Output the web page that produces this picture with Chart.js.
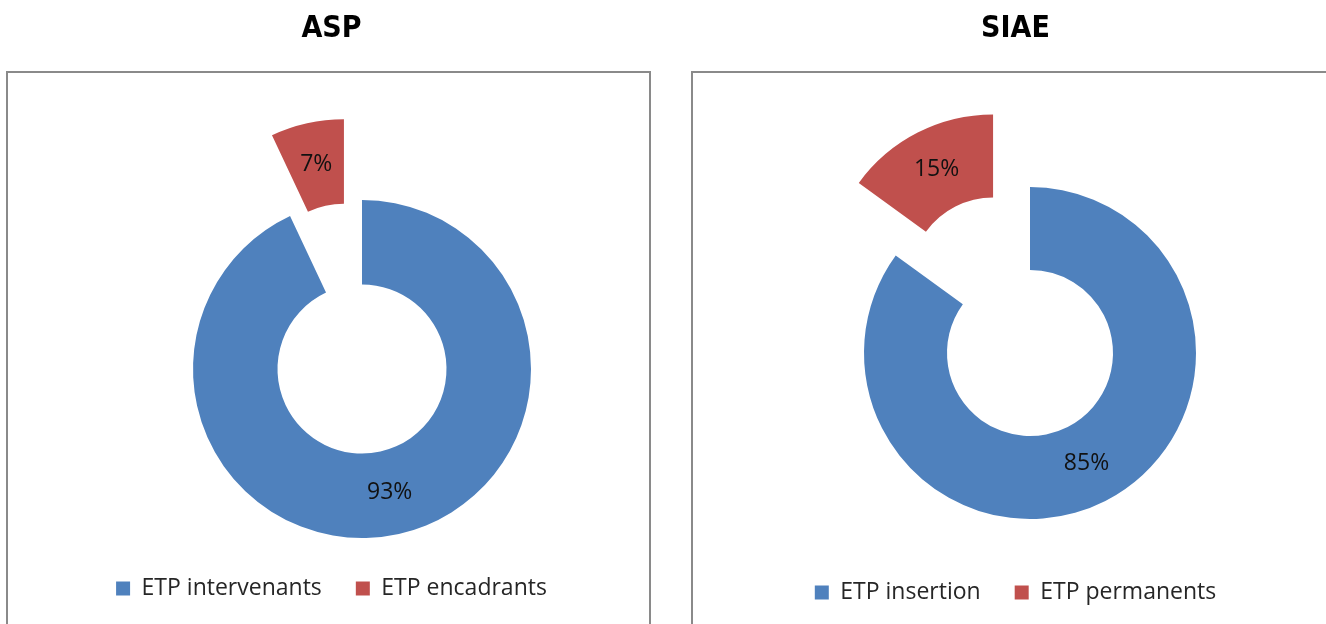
<!DOCTYPE html>
<html><head><meta charset="utf-8">
<script src="https://cdn.jsdelivr.net/npm/chart.js@4/dist/chart.umd.min.js"></script>
<style>
html,body{margin:0;padding:0;background:#fff;overflow:hidden;width:1326px;height:624px;position:relative;}
.frame{position:absolute;border:2px solid #8a8a8a;box-sizing:border-box;}
canvas{position:absolute;top:0;}
</style></head><body>
<div class="frame" style="left:6px;top:71px;width:645px;height:620px"></div>
<div class="frame" style="left:691px;top:71px;width:700px;height:620px"></div>
<canvas id="asp" width="663" height="610" style="left:0px"></canvas>
<canvas id="siae" width="663" height="614" style="left:684px"></canvas>
<script>
// ---- data ----
const aspTitle = 'ASP';
const aspCategories = ['ETP intervenants', 'ETP encadrants'];
const aspValues = [93, 7];

const siaeTitle = 'SIAE';
const siaeCategories = ['ETP insertion', 'ETP permanents'];
const siaeValues = [85, 15];

const sliceColors = ['#4F81BD', '#C0504D'];

// ---- plugin: place centre, explode slices, draw percentage labels ----
const piePlugin = {
  id: 'piePlugin',
  afterLayout(chart, args, opts) {
    const a = chart.chartArea;
    const w = a.right - a.left, h = a.bottom - a.top;
    a.left = opts.cx - w / 2; a.right = opts.cx + w / 2;
    a.top = opts.cy - h / 2; a.bottom = opts.cy + h / 2;
  },
  afterDatasetsUpdate(chart, args, opts) {
    const meta = chart.getDatasetMeta(0);
    meta.data.forEach((arc, i) => {
      const e = (opts.explode[i] || 0) * arc.outerRadius;
      const mid = (arc.startAngle + arc.endAngle) / 2;
      arc.x += Math.cos(mid) * e;
      arc.y += Math.sin(mid) * e;
    });
  },
  afterDatasetsDraw(chart, args, opts) {
    const ctx = chart.ctx;
    const meta = chart.getDatasetMeta(0);
    const data = chart.data.datasets[0].data;
    const total = data.reduce((s, v) => s + v, 0);
    ctx.save();
    ctx.font = '23px "Open Sans"';
    ctx.fillStyle = '#111';
    ctx.textAlign = 'center';
    ctx.textBaseline = 'middle';
    meta.data.forEach((arc, i) => {
      const mid = (arc.startAngle + arc.endAngle) / 2;
      const r = (arc.innerRadius + arc.outerRadius) / 2;
      ctx.fillText(Math.round(data[i] / total * 100) + '%',
        arc.x + Math.cos(mid) * r, arc.y + Math.sin(mid) * r);
    });
    ctx.restore();
  }
};

function makeChart(id, title, categories, values, cx, cy, radius) {
  return new Chart(document.getElementById(id), {
    type: 'doughnut',
    data: {
      labels: categories,
      datasets: [{ data: values, backgroundColor: sliceColors, borderWidth: 0 }]
    },
    options: {
      responsive: false,
      animation: false,
      devicePixelRatio: 1,
      events: [],
      cutout: '50%',
      radius: radius,
      layout: { padding: 0 },
      plugins: {
        title: {
          display: true, text: title, color: '#000',
          font: { family: '"DejaVu Sans Condensed", "DejaVu Sans"', size: 30, weight: 'bold' },
          padding: { top: 11, bottom: 10 }
        },
        legend: {
          position: 'bottom',
          labels: {
            boxWidth: 14, boxHeight: 14, padding: 34, color: '#262626',
            font: { family: '"Open Sans"', size: 23 }
          }
        },
        tooltip: { enabled: false },
        piePlugin: { cx: cx, cy: cy, explode: [0, 0.49] }
      }
    },
    plugins: [piePlugin]
  });
}

makeChart('asp', aspTitle, aspCategories, aspValues, 362, 369, 169);
makeChart('siae', siaeTitle, siaeCategories, siaeValues, 346, 353, 166);
</script>
</body></html>
